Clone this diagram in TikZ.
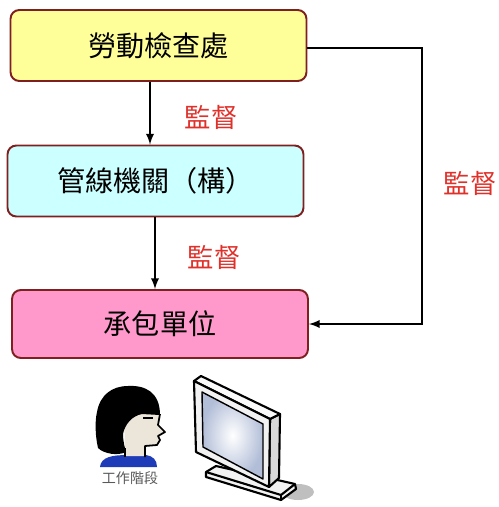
\documentclass[tikz,border=0pt]{standalone}
\usepackage{fontspec}
\setmainfont{Noto Sans CJK TC}
\definecolor{boxline}{HTML}{7F1F1F}
\definecolor{labyellow}{HTML}{FFFF99}
\definecolor{agcyan}{HTML}{CCFFFF}
\definecolor{unitpink}{HTML}{FF99CC}
\definecolor{supred}{HTML}{E0302A}
\definecolor{skin}{HTML}{ECE6DA}
\definecolor{shirt}{HTML}{1F3CB8}
\definecolor{screenedge}{HTML}{B2BED8}
\begin{document}
\begin{tikzpicture}[x=0.02cm,y=-0.02cm,
  box/.style={draw=boxline, line width=1.1pt, rounded corners=5pt,
    minimum width=5.92cm, minimum height=1.42cm,
    font=\fontsize{16}{18}\selectfont},
  ctl/.style={text=supred, font=\fontsize{15}{17}\selectfont},
  link/.style={line width=1.1pt, -latex},
  outl/.style={line width=1.2pt, line join=round}]
  \useasboundingbox (0,0) rectangle (499,507);

  % the three levels
  \node[box, fill=labyellow] (office) at (158.5,45.5) {勞動檢查處};
  \node[box, fill=agcyan] (agency) at (155.5,181) {管線機關（構）};
  \node[box, fill=unitpink, minimum height=1.36cm] (unit) at (160,324) {承包單位};

  % supervision links
  \coordinate (c1) at (150,0);
  \coordinate (c2) at (155,0);
  \coordinate (turn) at (422,48);
  \draw[link] (office.south -| c1) -- (agency.north -| c1);
  \draw[link] (agency.south -| c2) -- (unit.north -| c2);
  \draw[link] (office.east |- turn) -- (turn) |- (unit.east);
  \node[ctl] (sup1) at (211,117) {監督};
  \node[ctl] (sup2) at (214,257) {監督};
  \node[ctl] (sup3) at (470,183) {監督};

  % worker
  \fill[shirt] (100,467) .. controls (101,457) and (112,455) .. (128,455)
    -- (146,455) .. controls (153,456) and (157,460) .. (157,467) -- cycle;
  \fill[skin] (125,456) -- (124,410) -- (160,410) -- (158,425) -- (165,432)
    -- (158,436) -- (160,440) -- (157,445) -- (145,446) -- (145,456) -- cycle;
  \draw[line width=1pt, line join=round] (160,414) -- (158,425) -- (165,432)
    -- (158,436) -- (160,440) -- (157,445) -- (145,446) -- (145,457);
  \draw[line width=1pt] (125,448) -- (125,457);
  \draw[line width=1pt] (143,418) -- (153,418);
  \fill[black] (98,448) .. controls (95,435) and (95,420) .. (97,412)
    .. controls (100,395) and (112,386) .. (128,386)
    .. controls (145,385) and (160,392) .. (160,415)
    -- (142,414) .. controls (132,416) and (125,424) .. (123,434)
    .. controls (123,442) and (125,448) .. (126,452)
    .. controls (118,456) and (104,454) .. cycle;
  \node[text=black!65, font=\fontsize{8}{9}\selectfont] (worker) at (130,478) {工作階段};

  % monitor
  \fill[black!25] (298,492) ellipse [x radius=16, y radius=8];
  \filldraw[fill=black!5, outl] (206,472) -- (216,466) -- (295,484)
    -- (296,489) -- (281,500) -- (206,477) -- cycle;
  \draw[outl] (206,472) -- (281,495) -- (295,484);
  \draw[outl] (281,495) -- (281,500);
  \filldraw[fill=black!15, outl] (270,419) -- (280,414) -- (279,478) -- (269,487) -- cycle;
  \filldraw[fill=black!2, outl] (194,381) -- (201,376) -- (280,414) -- (270,419) -- cycle;
  \filldraw[fill=black!5, outl] (194,381) -- (270,419) -- (269,487) -- (196,452) -- cycle;
  \shade[inner color=white, outer color=screenedge] (202,392) -- (263,424) -- (263,479) -- (203,447) -- cycle;
  \draw[line width=0.8pt, line join=round] (202,392) -- (263,424) -- (263,479) -- (203,447) -- cycle;
\end{tikzpicture}
\end{document}
